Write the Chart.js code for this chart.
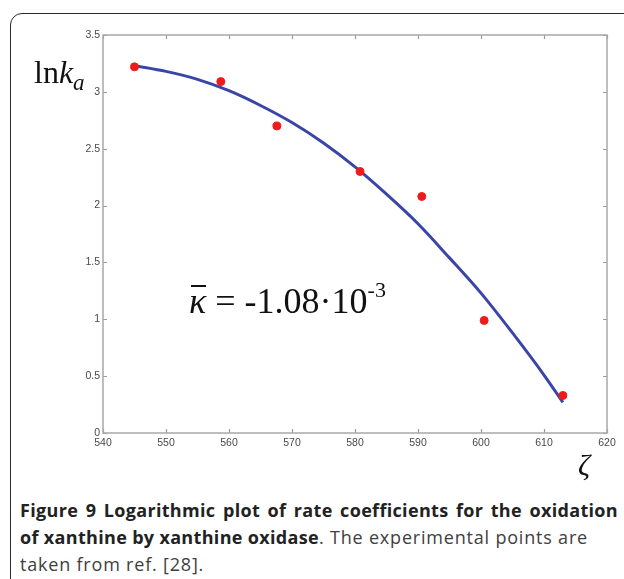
<!DOCTYPE html>
<html>
<head>
<meta charset="utf-8">
<script src="https://cdn.jsdelivr.net/npm/chart.js@4.4.1/dist/chart.umd.min.js"></script>
<style>
  html, body { margin: 0; padding: 0; background: #fff; }
  body { width: 624px; height: 579px; position: relative; overflow: hidden; }
  #frame {
    position: absolute; left: 10px; top: 13px; width: 700px; height: 700px;
    border: 1.5px solid #2a2a2a; border-radius: 12px; box-sizing: border-box;
  }
  #plot { position: absolute; left: 0; top: 0; width: 624px; height: 470px; }
  .math { position: absolute; font-family: "Liberation Serif", "Times New Roman", serif; color: #111; white-space: nowrap; }
  #ylab { left: 34px; top: 54px; font-size: 32px; }
  #ylab i.sub { font-size: 23px; position: relative; top: 7px; }
  #kappa { left: 189px; top: 280px; font-size: 36px; }
  #kappa .k { position: relative; display: inline-block; }
  #kappa .k::before {
    content: ""; position: absolute; left: 2px; right: 0px; top: 5px; height: 2px; background: #111;
  }
  #kappa sup { font-size: 22px; position: relative; top: -3px; }
  #xlab { left: 578px; top: 448px; font-size: 30px; }
  #caption {
    position: absolute; left: 20px; top: 497px; width: 620px;
    font-family: "Open Sans", "Noto Sans", sans-serif; font-size: 18px; line-height: 27px;
    color: #404040; white-space: nowrap;
  }
  #caption b { color: #222; font-weight: 700; }
</style>
</head>
<body>
<div id="frame"></div>
<canvas id="plot" width="624" height="470"></canvas>
<div id="ylab" class="math">ln<i>k</i><i class="sub">a</i></div>
<div id="kappa" class="math"><span class="k"><i>κ</i></span> = -1.08·10<sup>-3</sup></div>
<div id="xlab" class="math"><i>ζ</i></div>
<div id="caption"><b id="cap1">Figure 9 Logarithmic plot of rate coefficients for the oxidation</b><br><b id="cap2">of xanthine by xanthine oxidase</b><span class="reg" id="cap2r">. The experimental points are</span><br><span class="reg">taken from ref. [28].</span></div>
<script>
// Experimental points: reaction coordinate zeta vs ln k_a
const zeta = [545, 558.7, 567.6, 580.8, 590.6, 600.5, 613];
const lnKa = [3.22, 3.09, 2.70, 2.30, 2.08, 0.99, 0.33];

// Fitted curve read along its length
const fitZeta = [545, 550, 555, 560, 565, 570, 575, 580, 585, 590, 595, 600, 605, 610, 613];
const fitLnKa = [3.23, 3.18, 3.11, 3.01, 2.88, 2.73, 2.55, 2.34, 2.10, 1.84, 1.54, 1.23, 0.88, 0.51, 0.27];

// Axis ticks
const xTicks = [540, 550, 560, 570, 580, 590, 600, 610, 620];
const xTickLabels = ['540', '550', '560', '570', '580', '590', '600', '610', '620'];
const yTicks = [0, 0.5, 1, 1.5, 2, 2.5, 3, 3.5];
const yTickLabels = ['0', '0.5', '1', '1.5', '2', '2.5', '3', '3.5'];

// Caption typesetting: bold and regular runs get their own tracking,
// and the first (full) line is justified to the box width.
(function setCaption() {
  const spacing = (el, target) => {
    el.style.letterSpacing = '0px';
    const w = el.getBoundingClientRect().width;
    return (target - w) / el.textContent.length;
  };
  const bold = spacing(document.getElementById('cap2'), 299);
  document.querySelectorAll('#caption b').forEach(b => b.style.letterSpacing = bold.toFixed(3) + 'px');
  const reg = spacing(document.getElementById('cap2r'), 269);
  document.querySelectorAll('#caption .reg').forEach(s => s.style.letterSpacing = reg.toFixed(3) + 'px');
  const first = document.getElementById('cap1');
  const gaps = first.textContent.split(' ').length - 1;
  const w1 = first.getBoundingClientRect().width;
  first.style.wordSpacing = ((598 - w1) / gaps).toFixed(3) + 'px';
})();

// Box around the plot area with inward-pointing ticks on every side
const boxTicks = {
  id: 'boxTicks',
  afterDraw(chart) {
    const { ctx, chartArea: a, scales } = chart;
    const len = 4;
    ctx.save();
    ctx.strokeStyle = '#9a9a9a';
    ctx.lineWidth = 1.2;
    ctx.beginPath();
    scales.x.ticks.forEach(t => {
      const px = Math.round(scales.x.getPixelForValue(t.value)) + 0.5;
      ctx.moveTo(px, a.bottom); ctx.lineTo(px, a.bottom - len);
      ctx.moveTo(px, a.top); ctx.lineTo(px, a.top + len);
    });
    scales.y.ticks.forEach(t => {
      const py = Math.round(scales.y.getPixelForValue(t.value)) + 0.5;
      ctx.moveTo(a.left, py); ctx.lineTo(a.left + len, py);
      ctx.moveTo(a.right, py); ctx.lineTo(a.right - len, py);
    });
    ctx.stroke();
    ctx.lineWidth = 1.5;
    ctx.strokeStyle = '#a8a8a8';
    ctx.strokeRect(a.left, a.top, a.right - a.left, a.bottom - a.top);
    ctx.restore();
  }
};

new Chart(document.getElementById('plot'), {
  type: 'scatter',
  data: {
    datasets: [
      {
        label: 'fit',
        type: 'line',
        data: fitZeta.map((x, i) => ({ x, y: fitLnKa[i] })),
        borderColor: '#3a45a8',
        borderWidth: 3,
        pointRadius: 0,
        fill: false,
        cubicInterpolationMode: 'monotone',
        order: 2
      },
      {
        label: 'experiment',
        data: zeta.map((x, i) => ({ x, y: lnKa[i] })),
        backgroundColor: '#f01a1a',
        borderColor: '#f01a1a',
        pointRadius: 4,
        order: 1
      }
    ]
  },
  options: {
    responsive: false,
    animation: false,
    events: [],
    layout: { padding: { left: 0, top: 35, right: 17, bottom: 0 } },
    plugins: { legend: { display: false }, tooltip: { enabled: false } },
    scales: {
      x: {
        type: 'linear', min: 540, max: 620,
        afterBuildTicks: s => { s.ticks = xTicks.map(v => ({ value: v })); },
        afterFit: s => { s.height = 37; },
        grid: { display: false, drawTicks: false },
        border: { display: false },
        ticks: {
          padding: 4, color: '#4a4a4a',
          font: { family: 'Liberation Sans, Arial, sans-serif', size: 10.5 },
          callback: (v) => xTickLabels[xTicks.indexOf(v)]
        }
      },
      y: {
        type: 'linear', min: 0, max: 3.5,
        afterBuildTicks: s => { s.ticks = yTicks.map(v => ({ value: v })); },
        afterFit: s => { s.width = 103; },
        grid: { display: false, drawTicks: false },
        border: { display: false },
        ticks: {
          padding: 3, color: '#4a4a4a',
          font: { family: 'Liberation Sans, Arial, sans-serif', size: 10.5 },
          callback: (v) => yTickLabels[yTicks.indexOf(v)]
        }
      }
    }
  },
  plugins: [boxTicks]
});
</script>
</body>
</html>
